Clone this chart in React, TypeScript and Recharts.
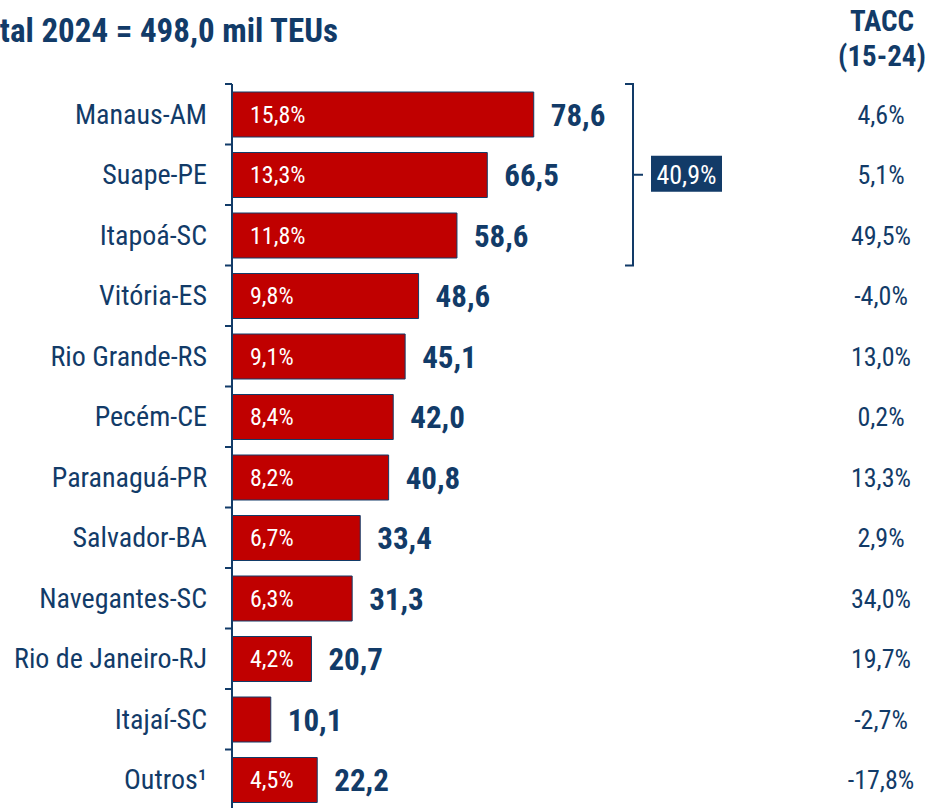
import React from "react";
import { Bar, BarChart, LabelList, XAxis, YAxis } from "recharts";

const ports = [
  "Manaus-AM",
  "Suape-PE",
  "Itapoá-SC",
  "Vitória-ES",
  "Rio Grande-RS",
  "Pecém-CE",
  "Paranaguá-PR",
  "Salvador-BA",
  "Navegantes-SC",
  "Rio de Janeiro-RJ",
  "Itajaí-SC",
  "Outros¹",
];
const teus = [78.6, 66.5, 58.6, 48.6, 45.1, 42.0, 40.8, 33.4, 31.3, 20.7, 10.1, 22.2];
const shares = ["15,8%", "13,3%", "11,8%", "9,8%", "9,1%", "8,4%", "8,2%", "6,7%", "6,3%", "4,2%", "", "4,5%"];
const tacc = ["4,6%", "5,1%", "49,5%", "-4,0%", "13,0%", "0,2%", "13,3%", "2,9%", "34,0%", "19,7%", "-2,7%", "-17,8%"];
const topThreeShare = "40,9%";
const title = "Total 2024 = 498,0 mil TEUs";

const data = ports.map((port, i) => ({ port, teus: teus[i], share: shares[i], tacc: tacc[i] }));

const W = 931;
const H = 830;
const TOP = 84;
const BOTTOM = 20;
const AXIS_X = 232;
const BAND = (H - TOP - BOTTOM) / ports.length;
const NAVY = "#123b68";
const RED = "#c00000";
const FONT = "'Roboto Condensed', 'Liberation Sans Narrow', Roboto, sans-serif";

const fmt = (v: number) => v.toFixed(1).replace(".", ",");

function PortTick(props: any) {
  const { y, payload, index } = props;
  return (
    <g>
      <line x1={AXIS_X - 7} x2={AXIS_X} y1={y - BAND / 2} y2={y - BAND / 2} stroke={NAVY} strokeWidth={2} />
      <text x={207} y={y} dy={9.5} textAnchor="end" fill={NAVY} fontSize={28} fontFamily={FONT}>
        {payload.value}
      </text>
      <text x={881} y={y} dy={9.5} textAnchor="middle" fill={NAVY} fontSize={26} fontFamily={FONT}>
        {tacc[index]}
      </text>
    </g>
  );
}

function ShareLabel(props: any) {
  const { x, y, height, value } = props;
  if (!value) return null;
  return (
    <text x={x + 18} y={y + height / 2} dy={8} fill="#fff" fontSize={24} fontFamily={FONT}>
      {value}
    </text>
  );
}

function ValueLabel(props: any) {
  const { x, y, width, height, value } = props;
  return (
    <text x={x + width + 17} y={y + height / 2} dy={11} fill={NAVY} fontSize={31} fontWeight={700} fontFamily={FONT}>
      {fmt(value)}
    </text>
  );
}

export default function App() {
  const bTop = TOP;
  const bBottom = TOP + BAND * 3;
  const bMid = (bTop + bBottom) / 2;
  return (
    <div style={{ position: "absolute", left: 0, top: 0, width: W, height: H, background: "#fff" }}>
      <BarChart
        width={W}
        height={H}
        data={data}
        layout="vertical"
        margin={{ top: TOP, right: 8, bottom: BOTTOM, left: 0 }}
        barSize={45}
      >
        <XAxis type="number" domain={[0, 180]} hide />
        <YAxis
          type="category"
          dataKey="port"
          width={AXIS_X}
          axisLine={{ stroke: NAVY, strokeWidth: 2 }}
          tickLine={false}
          tick={<PortTick />}
          interval={0}
        />
        <Bar dataKey="teus" fill={RED} stroke={NAVY} strokeWidth={1} isAnimationActive={false}>
          <LabelList dataKey="share" content={<ShareLabel />} />
          <LabelList dataKey="teus" content={<ValueLabel />} />
        </Bar>
      </BarChart>
      <svg width={W} height={H} style={{ position: "absolute", left: 0, top: 0, pointerEvents: "none" }}>
        <text x={338} y={42} textAnchor="end" fill={NAVY} fontSize={33} fontWeight={700} fontFamily={FONT}>
          {title}
        </text>
        <text x={882} y={31} textAnchor="middle" fill={NAVY} fontSize={29} fontWeight={700} fontFamily={FONT}>
          TACC
        </text>
        <text x={882} y={66} textAnchor="middle" fill={NAVY} fontSize={29} fontWeight={700} fontFamily={FONT}>
          (15-24)
        </text>
        <path
          d={`M625 ${bTop} H633 V${bBottom} H625 M633 ${bMid} H643`}
          fill="none"
          stroke={NAVY}
          strokeWidth={2}
        />
        <rect x={651} y={bMid - 19} width={71} height={36} fill={NAVY} />
        <text x={686.5} y={bMid} dy={9} textAnchor="middle" fill="#fff" fontSize={26} fontFamily={FONT}>
          {topThreeShare}
        </text>
      </svg>
    </div>
  );
}
